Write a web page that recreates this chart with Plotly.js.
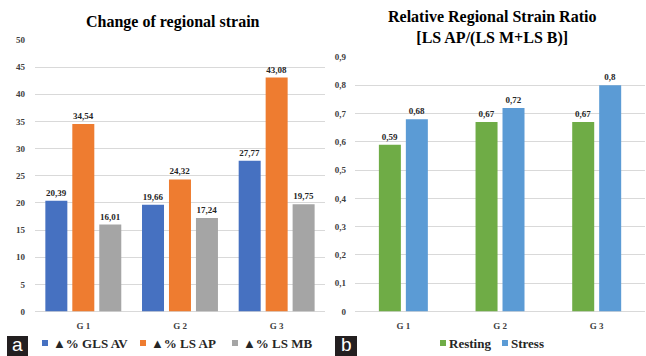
<!DOCTYPE html>
<html>
<head>
<meta charset="utf-8">
<script src="https://cdn.plot.ly/plotly-3.0.1.min.js"></script>
<style>html,body{margin:0;padding:0;background:#fff;}#chart{width:646px;height:356px;}</style>
</head>
<body>
<div id="chart"></div>
<script>
// ---- data ----
const groups = ['G 1', 'G 2', 'G 3'];
const seriesA = ['▲% GLS AV', '▲% LS AP', '▲% LS MB'];
const glsAV = [20.39, 19.66, 27.77];
const lsAP = [34.54, 24.32, 43.08];
const lsMB = [16.01, 17.24, 19.75];
const seriesB = ['Resting', 'Stress'];
const resting = [0.59, 0.67, 0.67];
const stress = [0.68, 0.72, 0.80];
const titleA = 'Change of regional strain';
const titleB = 'Relative Regional Strain Ratio<br>[LS AP/(LS M+LS B)]';

// ---- styling ----
const W = 646, H = 356;
const px = x => x / W;
const py = y => 1 - y / H;
const serif = 'Liberation Serif, Times New Roman, serif';
const colsA = ['#4671C1', '#EE7C30', '#A5A5A5'];
const colsB = ['#6FAC46', '#5B9BD5'];
const lab = v => String(v).replace('.', ',');
const bw = 22 / 96.67;
const offsA = [-0.393, -0.114, 0.165];
const offsB = [-0.253, 0.026];

const dataA = [glsAV, lsAP, lsMB];
const dataB = [resting, stress];
const traces = [];
dataA.forEach((vals, i) => {
  traces.push({
    type: 'bar', x: groups, y: vals, name: seriesA[i], xaxis: 'x', yaxis: 'y',
    width: bw, offset: offsA[i],
    marker: {color: colsA[i]},
    text: vals.map(lab), textposition: 'outside', cliponaxis: false,
    textfont: {family: serif, size: 9, weight: 'bold', color: '#262626'},
    showlegend: false, hoverinfo: 'skip'
  });
});
dataB.forEach((vals, i) => {
  traces.push({
    type: 'bar', x: groups, y: vals, name: seriesB[i], xaxis: 'x2', yaxis: 'y2',
    width: bw, offset: offsB[i],
    marker: {color: colsB[i]},
    text: vals.map(lab), textposition: 'outside', cliponaxis: false,
    textfont: {family: serif, size: 9, weight: 'bold', color: '#262626'},
    showlegend: false, hoverinfo: 'skip'
  });
});

const tickFont = {family: serif, size: 9, weight: 'bold', color: '#404040'};
const yCommon = {
  showgrid: true, gridcolor: '#D9D9D9', gridwidth: 1, zeroline: true, zerolinecolor: '#D9D9D9',
  showline: false, ticks: '', tickfont: tickFont, fixedrange: true
};
const xCommon = {
  showgrid: false, showline: false, zeroline: false, ticks: 'outside', ticklen: 6,
  tickcolor: 'rgba(0,0,0,0)', tickfont: tickFont, fixedrange: true
};

const shapes = [];
const annotations = [];
// titles
annotations.push({xref: 'paper', yref: 'paper', x: px(173), y: py(22), xanchor: 'center', yanchor: 'middle',
  text: titleA, showarrow: false, font: {family: serif, size: 16, weight: 'bold', color: '#000'}});
annotations.push({xref: 'paper', yref: 'paper', x: px(492), y: py(28), xanchor: 'center', yanchor: 'middle',
  text: titleB, showarrow: false, font: {family: serif, size: 16, weight: 'bold', color: '#000'}});
// legends
const legA = [42, 140, 232];
seriesA.forEach((n, i) => {
  shapes.push({type: 'rect', xref: 'paper', yref: 'paper', x0: px(legA[i]), x1: px(legA[i] + 6),
    y0: py(346), y1: py(340), fillcolor: colsA[i], line: {width: 0}});
  annotations.push({xref: 'paper', yref: 'paper', x: px(legA[i] + 9), y: py(343), xanchor: 'left', yanchor: 'middle',
    text: n, showarrow: false, font: {family: serif, size: 13, weight: 'bold', color: '#262626'}});
});
const legB = [440, 502];
seriesB.forEach((n, i) => {
  shapes.push({type: 'rect', xref: 'paper', yref: 'paper', x0: px(legB[i]), x1: px(legB[i] + 6),
    y0: py(346), y1: py(340), fillcolor: colsB[i], line: {width: 0}});
  annotations.push({xref: 'paper', yref: 'paper', x: px(legB[i] + 7), y: py(343), xanchor: 'left', yanchor: 'middle',
    text: n, showarrow: false, font: {family: serif, size: 13, weight: 'bold', color: '#262626'}});
});
// panel letters
[['a', 7, 28], ['b', 335, 357]].forEach(([t, x0, x1]) => {
  shapes.push({type: 'rect', xref: 'paper', yref: 'paper', x0: px(x0), x1: px(x1),
    y0: py(356), y1: py(336), fillcolor: '#231F20', line: {width: 0}});
  annotations.push({xref: 'paper', yref: 'paper', x: px((x0 + x1) / 2), y: py(356), xanchor: 'center', yanchor: 'bottom',
    text: t, showarrow: false, borderpad: 0,
    font: {family: 'Liberation Sans, Arial, sans-serif', size: 19, color: '#fff'}});
});

const layout = {
  width: W, height: H, margin: {l: 0, r: 0, t: 0, b: 0},
  paper_bgcolor: '#fff', plot_bgcolor: '#fff',
  separators: ',.', barmode: 'overlay', showlegend: false,
  xaxis: Object.assign({}, xCommon, {domain: [px(35), px(325)], anchor: 'y'}),
  xaxis2: Object.assign({}, xCommon, {domain: [px(355), px(645)], anchor: 'y2'}),
  yaxis: Object.assign({}, yCommon, {domain: [py(311.5), py(40)], range: [0, 50], dtick: 5, tick0: 0,
    anchor: 'x', ticklabelstandoff: 9}),
  yaxis2: Object.assign({}, yCommon, {domain: [py(311.5), py(57)], range: [0, 0.9], dtick: 0.1, tick0: 0,
    anchor: 'x2', ticklabelstandoff: 8}),
  shapes: shapes, annotations: annotations
};

Plotly.newPlot('chart', traces, layout, {staticPlot: true, displayModeBar: false});
</script>
</body>
</html>
